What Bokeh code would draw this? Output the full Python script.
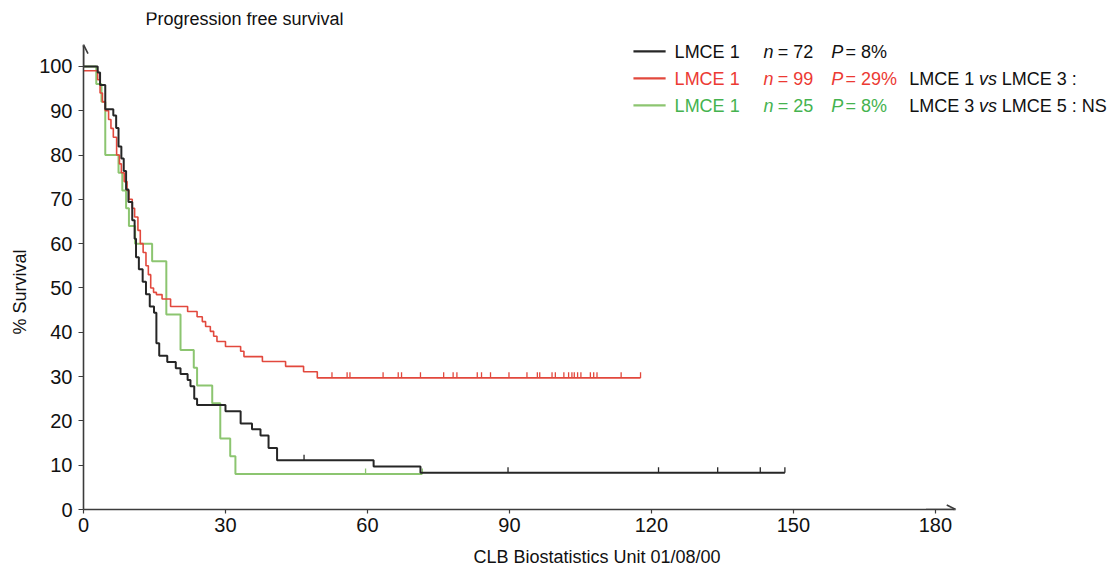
import numpy as np
from bokeh.plotting import figure
from bokeh.models import Range1d, FixedTicker, Label, Arrow, OpenHead, Title
from bokeh.embed import file_html
from bokeh.resources import INLINE

# ---------------- data ----------------
x_ticks = [0, 30, 60, 90, 120, 150, 180]
y_ticks = [0, 10, 20, 30, 40, 50, 60, 70, 80, 90, 100]

# LMCE 1 (n = 72) - black
black_t = [0, 3.0, 3.5, 4.6, 6.3, 6.9, 7.4, 8.0, 8.5, 9.0, 9.5, 10.3, 10.8, 11.1, 11.7,
           12.5, 13.2, 14.0, 14.9, 15.4, 16.0, 17.7, 19.5, 20.5, 22.0, 22.6, 23.4, 24.0,
           30.0, 33.2, 35.6, 37.4, 39.1, 40.9, 61.3, 71.2]
black_s = [100, 98.6, 95.8, 90.3, 88.9, 86.1, 81.9, 79.2, 76.4, 72.2, 69.4, 65.3, 61.1, 56.9, 54.2,
           51.4, 48.6, 45.8, 44.4, 37.5, 34.7, 33.3, 31.9, 30.6, 29.2, 27.8, 25.0, 23.6,
           22.2, 19.4, 18.1, 16.7, 13.9, 11.1, 9.7, 8.3]
black_end = 148.2
black_cens = [46.6, 89.7, 121.5, 134.0, 143.0, 148.2]

# LMCE 1 (n = 99) - red
red_t = [0, 3.0, 3.5, 4.0, 4.6, 5.3, 5.8, 6.3, 7.0, 7.6, 8.0, 8.6, 9.2, 9.6, 10.3, 10.8,
         11.5, 12.0, 12.6, 13.2, 13.7, 14.2, 14.8, 15.4, 16.6, 18.4, 22.0, 24.0, 25.1, 25.8,
         26.8, 27.5, 28.2, 30.0, 33.2, 33.9, 37.8, 42.7, 46.5, 49.4]
red_s = [99, 97, 94, 92, 90, 88, 86, 84, 80, 78, 76, 74, 72, 70, 68, 66,
         63, 60, 58, 55, 53, 50, 49, 48.5, 47.5, 45.8, 44.7, 43.5, 42.4, 41.3,
         40.2, 39.1, 37.9, 36.8, 35.7, 34.5, 33.4, 32.3, 31.1, 29.7]
red_end = 117.7
red_cens = [52.5, 55.7, 56.3, 63.3, 66.5, 67.2, 71.2, 76.1, 78.1, 78.9, 83.2, 84.1, 86.0,
            89.9, 93.7, 95.9, 96.4, 99.0, 99.7, 101.5, 102.5, 103.2, 103.7, 104.4, 105.1,
            107.1, 107.8, 108.5, 113.6, 117.7]

# LMCE 1 (n = 25) - green
green_t = [0, 2.7, 3.8, 4.6, 7.4, 8.2, 9.0, 9.6, 10.9, 14.5, 17.5, 20.5, 23.3, 24.0,
           27.2, 28.9, 31.0, 32.1]
green_s = [100, 96, 92, 80, 76, 72, 68, 64, 60, 56, 44, 36, 32, 28, 24, 16, 12, 8]
green_end = 71.6
green_cens = [59.6, 71.6]

legend_names = ["LMCE 1", "LMCE 1", "LMCE 1"]
legend_n = ["= 72", "= 99", "= 25"]
legend_p = ["= 8%", "= 29%", "= 8%"]

# ---------------- styling ----------------
FONT = "Liberation Sans"
C_BLACK = "#262626"
C_RED = "#e2483d"
C_GREEN = "#8cc570"
T_BLACK = "#111111"
T_RED = "#ec3a33"
T_GREEN = "#45b34f"
AXIS = "#3c3c3c"

p = figure(width=1116, height=569,
           x_range=Range1d(0, 217.0), y_range=Range1d(0, 112.16),
           output_backend="svg", toolbar_location=None,
           min_border_left=83, min_border_right=6, min_border_top=12, min_border_bottom=59)
p.xgrid.visible = False
p.ygrid.visible = False
p.outline_line_color = None
p.background_fill_color = "white"
p.border_fill_color = "white"

for ax, ticks, bnd, tout, stand in ((p.xaxis, x_ticks, (0, 184.0), 4, 4),
                                    (p.yaxis, y_ticks, (0, 104.6), 5, 6)):
    ax.ticker = FixedTicker(ticks=ticks)
    ax.bounds = bnd
    ax.axis_line_color = AXIS
    ax.axis_line_width = 1.6
    ax.major_tick_line_color = AXIS
    ax.major_tick_line_width = 1.2
    ax.major_tick_out = tout
    ax.major_tick_in = 0
    ax.minor_tick_line_color = None
    ax.major_label_standoff = stand
    ax.major_label_text_font = FONT
    ax.major_label_text_font_size = "20px"
    ax.major_label_text_color = T_BLACK
    ax.axis_label_text_font = FONT
    ax.axis_label_text_font_size = "18px"
    ax.axis_label_text_font_style = "normal"
    ax.axis_label_text_color = T_BLACK

p.xaxis.axis_label = "CLB Biostatistics Unit 01/08/00"
p.xaxis.axis_label_standoff = 12

# y-axis title, placed in the left border
p.add_layout(Title(text="% Survival", align="left", offset=175, standoff=14,
                   text_font=FONT, text_font_size="18px", text_font_style="normal",
                   text_color=T_BLACK), "left")

# arrowheads on the axes
p.add_layout(Arrow(end=OpenHead(size=9, line_color=AXIS, line_width=1.6),
                   x_start=0, y_start=100, x_end=0, y_end=104.9,
                   line_color=AXIS, line_width=1.6))
p.add_layout(Arrow(end=OpenHead(size=9, line_color=AXIS, line_width=1.6),
                   x_start=178, y_start=0, x_end=184.3, y_end=0,
                   line_color=AXIS, line_width=1.6))


def draw_curve(t, s, end, cens, color, lw):
    tx = list(t) + [end]
    sy = list(s) + [s[-1]]
    p.step(tx, sy, mode="after", line_color=color, line_width=lw)
    ta = np.asarray(t)
    sa = np.asarray(s)
    cs = [sa[np.searchsorted(ta, c, side="right") - 1] for c in cens]
    p.segment(x0=cens, y0=cs, x1=cens, y1=[v + 1.25 for v in cs],
              line_color=color, line_width=1.3)


draw_curve(green_t, green_s, green_end, green_cens, C_GREEN, 2.0)
draw_curve(red_t, red_s, red_end, red_cens, C_RED, 1.6)
draw_curve(black_t, black_s, black_end, black_cens, C_BLACK, 2.0)


def lbl(x, y, text, color=T_BLACK, style="normal", align="left", size="18px"):
    p.add_layout(Label(x=x, y=y, text=text, text_font=FONT, text_font_size=size,
                       text_color=color, text_font_style=style, text_align=align,
                       text_baseline="middle"))


# title
lbl(13.1, 110.8, "Progression free survival")

# legend
rows_y = [103.4, 97.3, 91.2]
line_cols = [C_BLACK, C_RED, C_GREEN]
text_cols = [T_BLACK, T_RED, T_GREEN]
for i in range(3):
    y = rows_y[i]
    p.line([116.2, 123.0], [y, y], line_color=line_cols[i], line_width=2.2)
    lbl(124.9, y - 0.25, legend_names[i], text_cols[i])
    lbl(143.7, y - 0.25, "n", text_cols[i], style="italic")
    lbl(146.7, y - 0.25, legend_n[i], text_cols[i])
    lbl(158.0, y - 0.25, "P", text_cols[i], style="italic")
    lbl(161.0, y - 0.25, legend_p[i], text_cols[i])

lbl(174.5, rows_y[1] - 0.25, "LMCE 1")
lbl(189.2, rows_y[1] - 0.25, "vs", style="italic")
lbl(194.0, rows_y[1] - 0.25, "LMCE 3 :")
lbl(174.5, rows_y[2] - 0.25, "LMCE 3")
lbl(189.2, rows_y[2] - 0.25, "vs", style="italic")
lbl(194.0, rows_y[2] - 0.25, "LMCE 5 : NS")

open("out.html", "w").write(file_html(p, INLINE))
